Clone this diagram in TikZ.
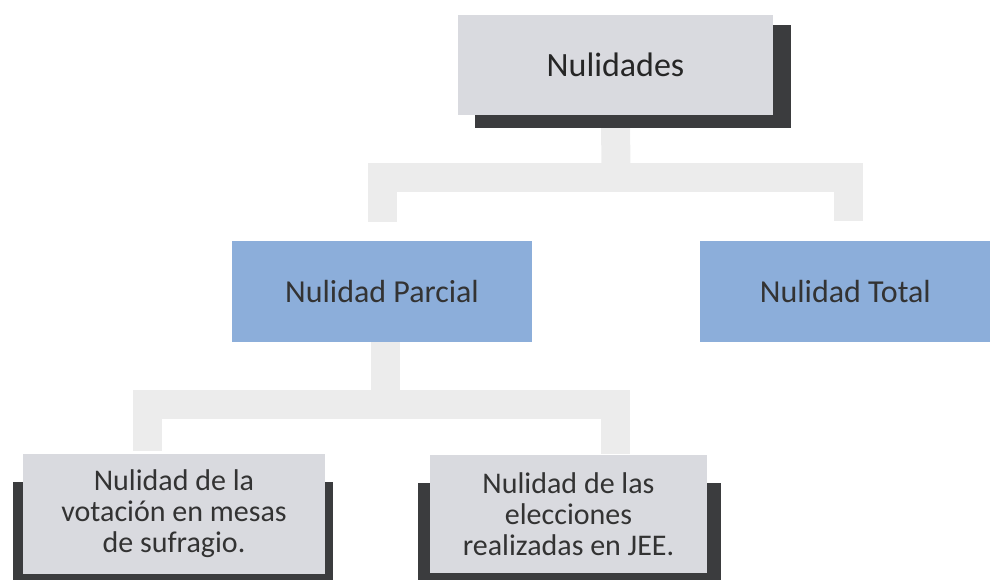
\documentclass[tikz,border=0pt]{standalone}
\usepackage{fontspec}
\setmainfont{Carlito}
\usetikzlibrary{positioning,backgrounds}
\definecolor{boxgray}{HTML}{D9DADF}
\definecolor{boxblue}{HTML}{8CAEDA}
\definecolor{shade}{HTML}{3B3C3E}
\definecolor{linkgray}{HTML}{ECECEC}
\definecolor{ink}{HTML}{333333}

\begin{document}
\begin{tikzpicture}[x=1pt, y=-1pt,
  graybox/.style={fill=boxgray, text=ink, inner sep=0pt, align=center},
  bluebox/.style={fill=boxblue, text=ink, inner sep=0pt, minimum width=300pt, minimum height=101pt, font=\fontsize{32}{34}\selectfont},
  link/.style={draw=linkgray, line width=29pt, line join=miter},
  shadowbox/.style={fill=shade}]
  \useasboundingbox (0,0) rectangle (990,579);
  \node (nul) [graybox, minimum width=315pt, minimum height=100pt, font=\fontsize{34}{36}\selectfont, text=black!85] at (615.5,65) {Nulidades};
  \node (part) [bluebox] at (382,291.5) {Nulidad Parcial};
  \node (tot) [bluebox, minimum width=290pt, right=168pt of part] {Nulidad Total};
  \node (vot) [graybox, minimum width=302pt, minimum height=120pt, font=\fontsize{30}{31}\selectfont] at (174,514) {Nulidad de la\\votación en mesas\\de sufragio.};
  \node (elec) [graybox, minimum width=277pt, minimum height=118pt, font=\fontsize{30}{31}\selectfont] at (568.5,514) {Nulidad de las\\elecciones\\realizadas en JEE.};
  \coordinate (j1) at (616,177);
  \coordinate (j2) at (385,404);
  \begin{scope}[on background layer]
    % connectors
    \draw[link] (nul.south) -- (j1);
    \draw[link] ([yshift=19pt]part.north) |- (j1) -| ([xshift=3pt,yshift=20pt]tot.north);
    \draw[link] ([xshift=3pt]part.south) -- (j2);
    \draw[link] ([xshift=-27pt,yshift=3pt]vot.north) |- (j2) -| ([xshift=47pt,yshift=1pt]elec.north);
    % shadows
    \fill[shadowbox] ([xshift=17pt,yshift=-10pt]nul.north west) rectangle ([xshift=18pt,yshift=-13pt]nul.south east);
    \fill[shadowbox] ([xshift=-10pt,yshift=-28pt]vot.north west) rectangle ([xshift=8pt,yshift=-6pt]vot.south east);
    \fill[shadowbox] ([xshift=-12pt,yshift=-28pt]elec.north west) rectangle ([xshift=14pt,yshift=-7pt]elec.south east);
  \end{scope}
\end{tikzpicture}
\end{document}
